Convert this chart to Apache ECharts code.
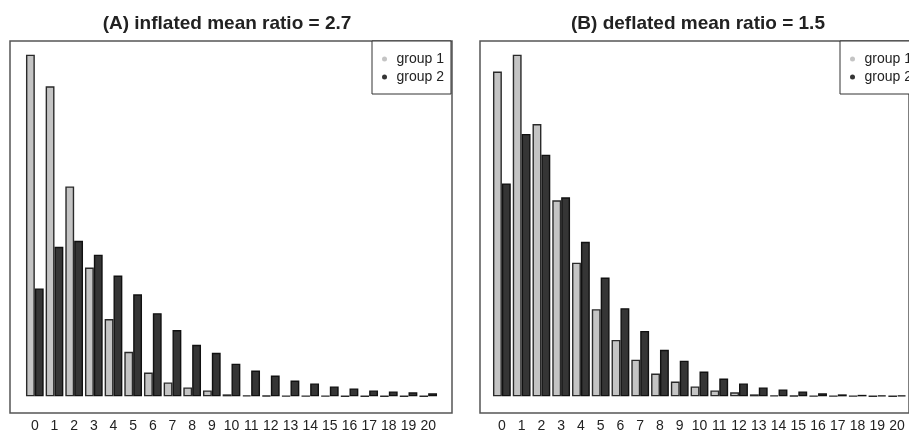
<!DOCTYPE html>
<html>
<head>
<meta charset="utf-8">
<script src="https://cdn.jsdelivr.net/npm/echarts@6/dist/echarts.min.js"></script>
<style>
  html, body { margin: 0; padding: 0; background: #fff; }
  #main { width: 909px; height: 433px; }
</style>
</head>
<body>
<div id="main"></div>
<script>
// counts 0..20
var categories = ['0','1','2','3','4','5','6','7','8','9','10','11','12','13','14','15','16','17','18','19','20'];

// (A) inflated
var inflatedGroup1 = [345, 313, 212, 130, 78, 45, 24, 14, 9, 6, 2, 1, 0.6, 0.5, 0.4, 0.4, 0.3, 0.3, 0.3, 0.3, 0.3];
var inflatedGroup2 = [109, 151, 157, 143, 122, 103, 84, 67, 52, 44, 33, 26, 21, 16, 13, 10, 8, 6, 5, 4, 3];

// (B) deflated
var deflatedGroup1 = [328, 345, 275, 198, 135, 88, 57, 37, 23, 15, 10, 6, 4, 2, 1, 0.6, 0.5, 0.4, 0.4, 0.3, 0.3];
var deflatedGroup2 = [215, 265, 244, 201, 156, 120, 89, 66, 47, 36, 25, 18, 13, 9, 7, 5, 3, 2, 1.5, 1, 1];

var titles = ['(A) inflated mean ratio = 2.7', '(B) deflated mean ratio = 1.5'];
var seriesNames = ['group 1', 'group 2'];

var FONT = 'Liberation Sans, Arial, Helvetica, sans-serif';
var LIGHT = '#c4c4c4';
var DARK = '#353535';

var myChart = echarts.init(document.getElementById('main'));

//面板位置
var panels = [
    { frame: { left: 10, right: 457 }, plot: { left: 25, right: 471 }, title: 227, legend: { left: 372 }, g1: inflatedGroup1, g2: inflatedGroup2 },
    { frame: { left: 480, right: -12 }, plot: { left: 492, right: 2 }, title: 698, legend: { left: 840, right: -20 }, g1: deflatedGroup1, g2: deflatedGroup2 }
];

var grid = [], xAxis = [], yAxis = [], series = [], title = [], legend = [];

panels.forEach(function (p, i) {
    var ymax = Math.max.apply(null, p.g1.concat(p.g2));
    var fi = i * 2, pi = i * 2 + 1;

    // frame box
    grid.push({ left: p.frame.left, right: p.frame.right, top: 41, bottom: 20,
        show: true, borderColor: '#555', borderWidth: 1.5, backgroundColor: 'transparent' });
    xAxis.push({ gridIndex: fi, type: 'value', show: false });
    yAxis.push({ gridIndex: fi, type: 'value', show: false });

    // plot region
    grid.push({ left: p.plot.left, right: p.plot.right, top: 41, bottom: 20 });
    xAxis.push({
        gridIndex: pi, type: 'category', data: categories, position: 'bottom',
        axisLine: { show: false }, axisTick: { show: false }, splitLine: { show: false },
        axisLabel: { interval: 0, margin: 9, fontSize: 14, color: '#222', fontFamily: FONT }
    });
    yAxis.push({
        gridIndex: pi, type: 'value', show: false,
        min: -0.04 * ymax, max: 1.04 * ymax, splitLine: { show: false }
    });

    series.push({
        name: seriesNames[0], type: 'bar', xAxisIndex: pi, yAxisIndex: pi, data: p.g1,
        barGap: '0%', barCategoryGap: '10%',
        itemStyle: { color: LIGHT, borderColor: '#2a2a2a', borderWidth: 1.4 }
    });
    series.push({
        name: seriesNames[1], type: 'bar', xAxisIndex: pi, yAxisIndex: pi, data: p.g2,
        barGap: '0%', barCategoryGap: '10%',
        itemStyle: { color: DARK, borderColor: '#111', borderWidth: 1.4 }
    });

    title.push({
        text: titles[i], left: p.title, top: 14, textAlign: 'center', padding: 0,
        textStyle: { fontSize: 19, fontWeight: 'bold', color: '#222', fontFamily: FONT }
    });

    var lg = {
        data: seriesNames, orient: 'vertical', top: 41,
        padding: [11, 7, 10, 10], itemGap: 4, itemWidth: 14, itemHeight: 5,
        icon: 'circle', borderColor: '#333', borderWidth: 1, borderRadius: 0,
        backgroundColor: '#fff', selectedMode: false,
        itemStyle: { borderWidth: 0 },
        textStyle: { fontSize: 14, lineHeight: 14, color: '#222', fontFamily: FONT, padding: 0 }
    };
    lg.left = p.legend.left;
    if (p.legend.right !== undefined) lg.right = p.legend.right;
    legend.push(lg);
});

myChart.setOption({
    animation: false,
    backgroundColor: '#fff',
    title: title,
    legend: legend,
    grid: grid,
    xAxis: xAxis,
    yAxis: yAxis,
    series: series
});
</script>
</body>
</html>
